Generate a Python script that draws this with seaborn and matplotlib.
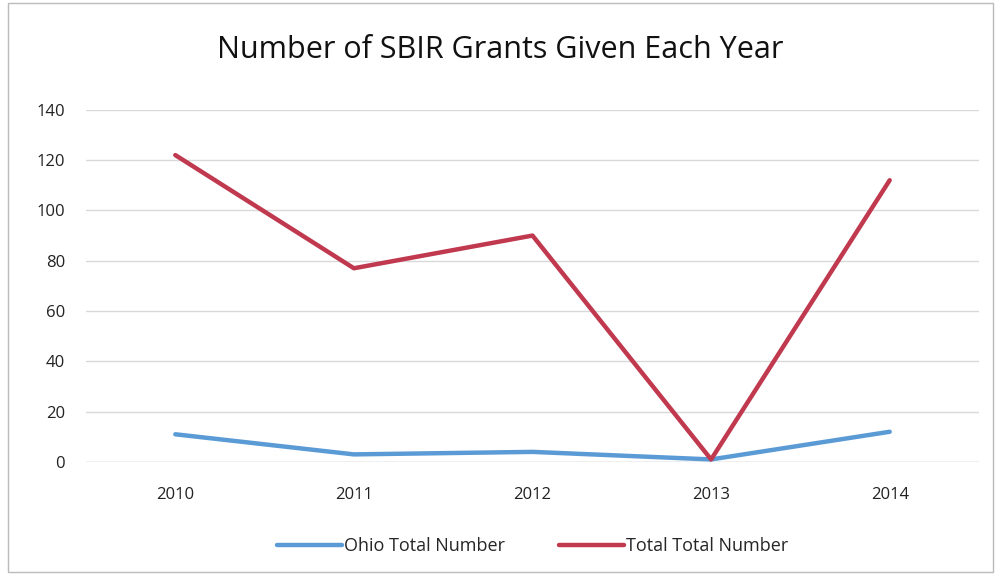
import pandas as pd
import matplotlib.pyplot as plt
import seaborn as sns

years = ["2010", "2011", "2012", "2013", "2014"]
ohio_total = [11, 3, 4, 1, 12]
total_total = [122, 77, 90, 1, 112]
series_names = ["Ohio Total Number", "Total Total Number"]
y_ticks = [0, 20, 40, 60, 80, 100, 120, 140]


def main():
    sns.set_theme(style="white")
    plt.rcParams["font.family"] = ["Open Sans", "DejaVu Sans"]

    df = pd.DataFrame({
        "Year": years * 2,
        "Value": ohio_total + total_total,
        "Series": [series_names[0]] * len(years) + [series_names[1]] * len(years),
    })

    fig = plt.figure(figsize=(10, 5.84), dpi=100)
    ax = fig.add_axes([0.086, 0.209, 0.893, 0.603])

    sns.lineplot(
        data=df, x="Year", y="Value", hue="Series",
        palette=["#5B9BD5", "#C0394F"], linewidth=3.2, ax=ax, sort=False,
    )

    ax.set_xlim(-0.5, 4.5)
    ax.set_ylim(0, 140)
    ax.set_yticks(y_ticks)
    ax.yaxis.grid(True, color="#d9d9d9", linewidth=1)
    for s in ax.spines.values():
        s.set_visible(False)
    ax.axhline(0, color="#d0d0d0", linewidth=1, zorder=0)
    ax.set_xlabel("")
    ax.set_ylabel("")
    ax.tick_params(axis="both", labelsize=12, colors="#222222", length=0)
    ax.tick_params(axis="x", pad=18)
    ax.tick_params(axis="y", pad=15)

    fig.suptitle("Number of SBIR Grants Given Each Year", fontsize=22,
                 y=0.94, color="#111111")

    handles, labels = ax.get_legend_handles_labels()
    ax.legend(handles, labels, loc="center", bbox_to_anchor=(0.5, -0.24),
              ncol=2, frameon=False, fontsize=13, handlelength=3.6,
              handletextpad=0.1, columnspacing=3)

    fig.patches.append(plt.Rectangle((0.008, 0.02), 0.985, 0.975,
                                     transform=fig.transFigure, fill=False,
                                     edgecolor="#bbbbbb", linewidth=1))

    plt.savefig("out.png", dpi=100)


if __name__ == "__main__":
    main()
